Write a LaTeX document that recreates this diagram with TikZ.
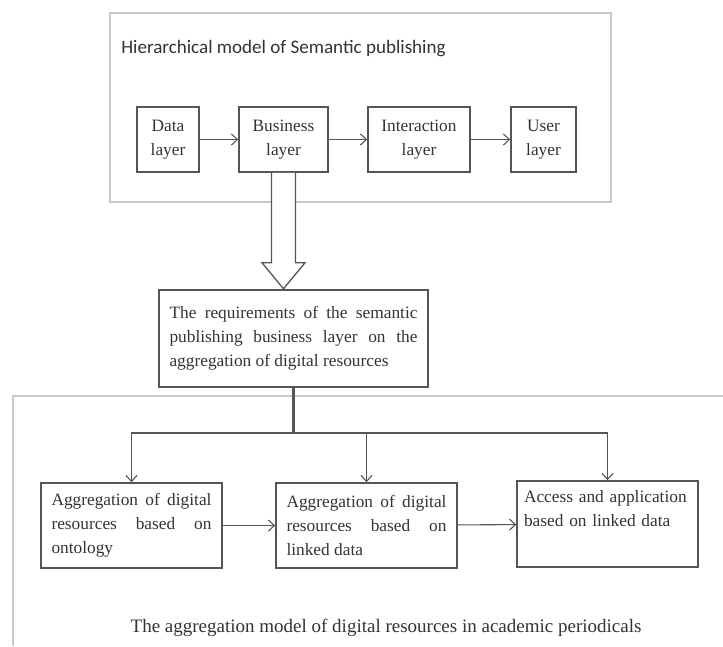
\documentclass[tikz,border=0pt]{standalone}
\usepackage{fontspec}
\setmainfont{Liberation Serif}
\newfontfamily\titlefont{Carlito}
\usetikzlibrary{arrows.meta}
\newdimen\pxu \pxu=0.75pt
\hyphenpenalty=10000 \exhyphenpenalty=10000 \tolerance=10000 \hbadness=10000
\definecolor{ln}{HTML}{555555}
\definecolor{fr}{HTML}{C8C8C8}
\definecolor{tx}{HTML}{333333}
\begin{document}
\begin{tikzpicture}[x=0.75pt,y=-0.75pt,
  txt/.style={text=tx, font=\fontsize{13}{18}\selectfont},
  box/.style={txt, draw=ln, line width=1.5\pxu, inner sep=0pt, align=center, minimum height=65\pxu},
  jbox/.style={txt, draw=ln, line width=1.5\pxu, inner ysep=0pt, inner xsep=10.5\pxu, text width=160\pxu, align=justify, minimum height=85\pxu},
  arr/.style={draw=ln, line width=1.1\pxu, -{Straight Barb[length=4.5pt,width=8.25pt]}},
  frame/.style={draw=fr, line width=1.3\pxu}]
\useasboundingbox (0,0) rectangle (723,646);
% top frame
\draw[frame] (110,13) rectangle (611,202);
\node[anchor=base west, inner sep=0pt, text=tx, font=\titlefont\fontsize{14.3}{17}\selectfont] (title) at (121,53) {Hierarchical model of Semantic publishing};
% top boxes
\node[box, minimum width=62\pxu] (data) at (168,139.5) {Data\\layer};
\node[box, minimum width=89\pxu] (biz) at (283.5,139.5) {Business\\layer};
\node[box, minimum width=102\pxu] (inter) at (419,139.5) {Interaction\\layer};
\node[box, minimum width=65\pxu] (user) at (543.5,139.5) {User\\layer};
\draw[arr] (data) -- (biz);
\draw[arr] (biz) -- (inter);
\draw[arr] (inter) -- (user);
% requirements box
\node[jbox, text width=248\pxu, minimum height=97\pxu] (req) at (293.5,338.5) {The requirements of the semantic\linebreak publishing business layer on the\linebreak aggregation of digital resources};
% hollow arrow
\draw[ln, line width=1.3\pxu, fill=white]
  ([xshift=-12\pxu]biz.south) -- ([xshift=-12\pxu,yshift=-90\pxu]biz.south)
  -- ([xshift=-21.5\pxu,yshift=-90\pxu]biz.south)
  -- ([yshift=-116\pxu]biz.south)
  -- ([xshift=21.5\pxu,yshift=-90\pxu]biz.south)
  -- ([xshift=12\pxu,yshift=-90\pxu]biz.south)
  -- ([xshift=12\pxu]biz.south);
% bottom frame
\draw[frame] (723,396) -- (13,396) -- (13,646);
% bottom boxes
\node[jbox] (b1) at (131.5,525.5) {Aggregation of digital\linebreak resources based on\linebreak ontology};
\node[jbox] (b2) at (366.5,525.5) {Aggregation of digital\linebreak resources based on\linebreak linked data};
\node[jbox, align=left, inner xsep=7\pxu, text width=167\pxu, minimum height=86\pxu] (b3) at (607.5,524) {\mbox{Access and application}\\based on linked data\\\strut};
% connectors
\coordinate (br) at (293.5,433);
\draw[ln, line width=2.4\pxu] (req.south) -- (br);
\draw[arr] (br) -| (b1.north);
\draw[arr] (br) -| (b3.north);
\draw[arr] (b2.north |- br) -- (b2.north);
\draw[arr] (b1) -- (b2);
\draw[arr] (b2) -- (b3);
% caption
\node[txt, inner sep=0pt, font=\fontsize{14.25}{17}\selectfont, anchor=base] (cap) at (386,632) {The aggregation model of digital resources in academic periodicals};
\end{tikzpicture}
\end{document}
